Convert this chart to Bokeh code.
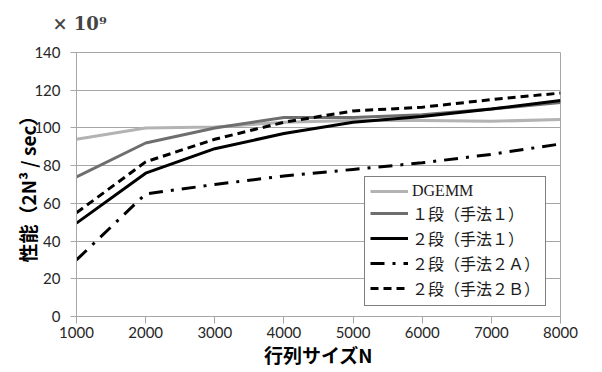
from bokeh.plotting import figure
from bokeh.models import Range1d, Legend, LegendItem, FixedTicker, Title
from bokeh.embed import file_html
from bokeh.resources import INLINE

sizes = [1000, 2000, 3000, 4000, 5000, 6000, 7000, 8000]
dgemm = [94, 100, 100.5, 103, 104, 104, 103.5, 104.5]
one_stage_m1 = [74, 92, 100, 105.5, 105.5, 107, 110, 113.5]
two_stage_m1 = [49.5, 76, 89, 97, 103, 106, 110, 114.5]
two_stage_m2a = [30, 65, 70, 74.5, 78, 81.5, 86, 91.5]
two_stage_m2b = [55, 82, 94, 103, 109, 111, 115, 118.5]

series_names = ["DGEMM", "１段（手法１）", "２段（手法１）", "２段（手法２Ａ）", "２段（手法２Ｂ）"]
x_ticks = [1000, 2000, 3000, 4000, 5000, 6000, 7000, 8000]
y_ticks = [0, 20, 40, 60, 80, 100, 120, 140]

p = figure(width=600, height=370, output_backend="svg", toolbar_location=None,
           x_range=Range1d(1000, 8000), y_range=Range1d(0, 140),
           min_border_left=76, min_border_right=40, min_border_top=52, min_border_bottom=54,
           title="× 10⁹", x_axis_label="行列サイズN", y_axis_label="性能（2N³ / sec）")
p.background_fill_color = "white"
p.border_fill_color = "white"
p.outline_line_color = "#a6a6a6"
p.outline_line_width = 1

p.title.text_font = "DejaVu Serif"
p.title.text_font_style = "bold"
p.title.text_font_size = "18px"
p.title.align = "left"
p.title.offset = -24
p.title.standoff = 0

spacer = Title(text="\u00a0", text_font_size="16px", standoff=0)
p.add_layout(spacer, "above")

p.xgrid.grid_line_color = None
p.ygrid.grid_line_color = "#a6a6a6"
p.ygrid.grid_line_width = 1
p.xaxis.ticker = FixedTicker(ticks=x_ticks)
p.yaxis.ticker = FixedTicker(ticks=y_ticks)
for ax in (p.xaxis, p.yaxis):
    ax.axis_line_color = "#a6a6a6"
    ax.major_tick_line_color = "#a6a6a6"
    ax.minor_tick_line_color = None
    ax.major_tick_in = 0
    ax.major_label_text_font = "Lato"
    ax.major_label_text_font_size = "15px"
    ax.major_label_text_color = "#262626"
    ax.axis_label_text_font = "Noto Sans CJK JP"
    ax.axis_label_text_font_style = "bold"
    ax.axis_label_text_color = "black"
p.xaxis.major_tick_out = 7
p.yaxis.major_tick_out = 6
p.xaxis.major_label_standoff = 3
p.yaxis.major_label_standoff = 10
p.xaxis.axis_label_text_font_size = "19px"
p.yaxis.axis_label_text_font_size = "19px"
p.xaxis.axis_label_standoff = 0
p.yaxis.axis_label_standoff = -10

r0 = p.line(sizes, dgemm, line_color="#b3b3b3", line_width=3)
r1 = p.line(sizes, one_stage_m1, line_color="#6e6e6e", line_width=3)
r2 = p.line(sizes, two_stage_m1, line_color="black", line_width=3)
r3 = p.line(sizes, two_stage_m2a, line_color="black", line_width=3, line_dash="14 8 3 8")
r4 = p.line(sizes, two_stage_m2b, line_color="black", line_width=3, line_dash="8 5")

legend = Legend(items=[LegendItem(label=n, renderers=[r]) for n, r in zip(series_names, [r0, r1, r2, r3, r4])],
                location=(288, 10))
legend.border_line_color = "black"
legend.border_line_width = 1
legend.background_fill_color = "white"
legend.background_fill_alpha = 1
legend.label_text_font = "Liberation Serif, Noto Sans CJK JP"
legend.label_text_font_size = "16px"
legend.label_text_color = "#1a1a1a"
legend.glyph_width = 38
legend.glyph_height = 18
legend.label_height = 18
legend.spacing = 1
legend.padding = 5
legend.margin = 0
legend.label_standoff = 4
p.add_layout(legend, "center")

open("out.html", "w").write(file_html(p, INLINE))
